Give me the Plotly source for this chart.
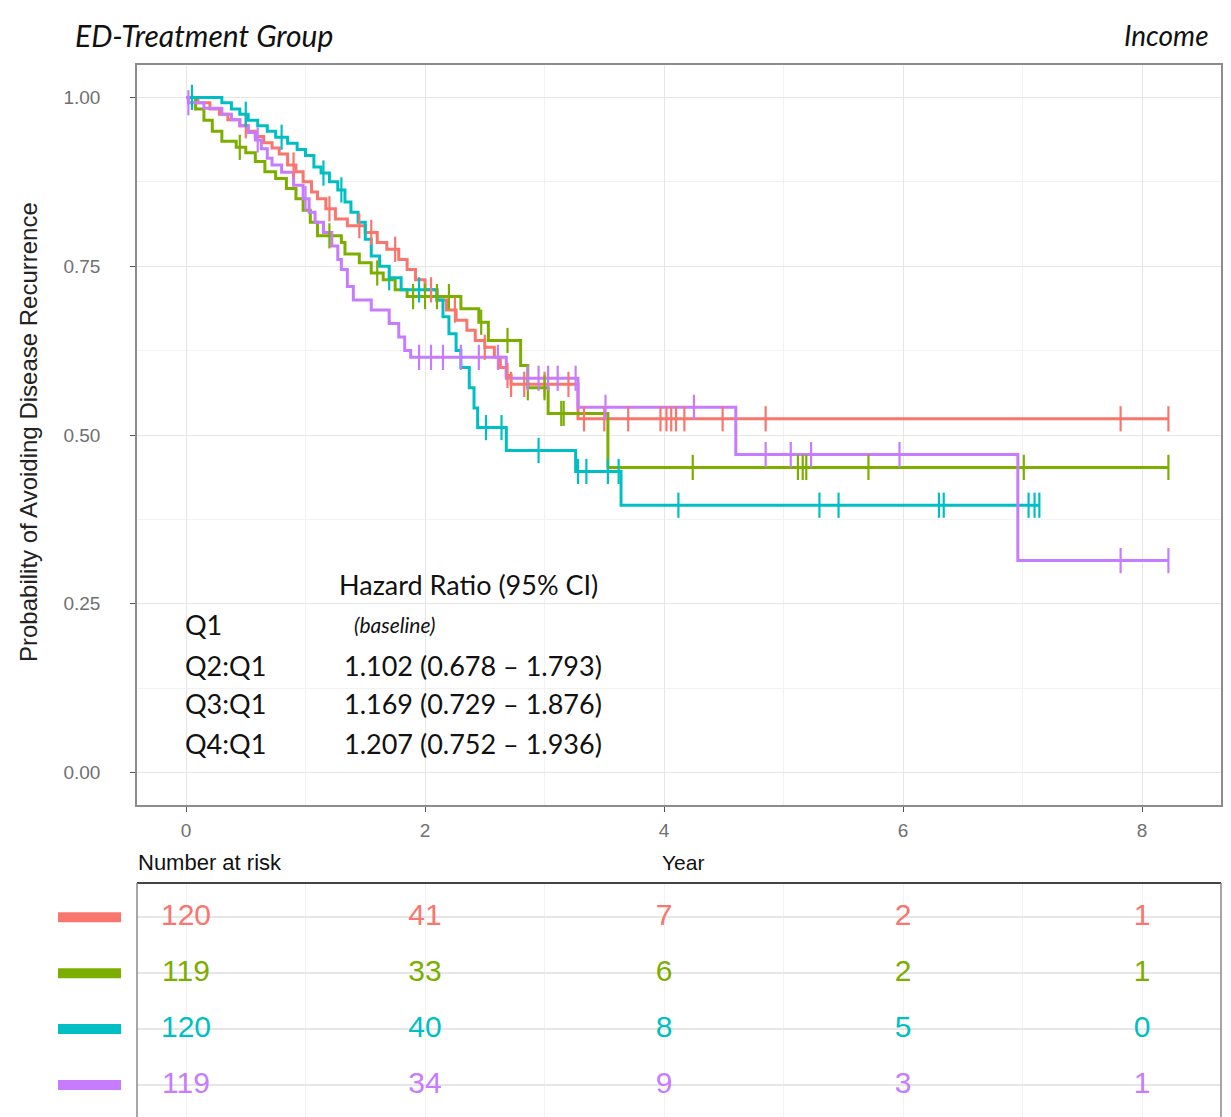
import numpy as np
import plotly.graph_objects as go

# ---------------- data ----------------
groups = ["Q1", "Q2", "Q3", "Q4"]
colors = ["#F8766D", "#7CAE00", "#00BFC4", "#C77CFF"]

q1_t = [0, 0.10, 0.20, 0.28, 0.35, 0.45, 0.52, 0.58, 0.65, 0.72, 0.78, 0.85, 0.92, 0.98, 1.05, 1.10,
        1.17, 1.25, 1.35, 1.50, 1.60, 1.68, 1.78, 1.85, 1.92, 2.00, 2.10, 2.18, 2.26, 2.35, 2.42,
        2.50, 2.58, 2.63, 2.68, 2.72, 3.28, 8.22]
q1_s = [1.0, 0.992, 0.983, 0.975, 0.967, 0.958, 0.950, 0.942, 0.933, 0.925, 0.916, 0.900, 0.890,
        0.875, 0.860, 0.850, 0.835, 0.820, 0.810, 0.800, 0.785, 0.775, 0.760, 0.745, 0.730, 0.715,
        0.700, 0.685, 0.670, 0.655, 0.640, 0.630, 0.615, 0.600, 0.588, 0.575, 0.524, 0.524]
q1_cens = [0.50, 0.90, 1.20, 1.45, 1.55, 1.75, 2.05, 2.25, 2.50, 2.69, 2.72, 2.83, 3.00, 3.20,
           3.33, 3.50, 3.70, 3.97, 4.02, 4.06, 4.10, 4.17, 4.49, 4.85, 7.82, 8.22]

q2_t = [0, 0.08, 0.15, 0.22, 0.30, 0.42, 0.50, 0.58, 0.66, 0.75, 0.84, 0.92, 0.98, 1.04, 1.10,
        1.30, 1.33, 1.45, 1.55, 1.65, 1.75, 1.85, 2.30, 2.45, 2.53, 2.80, 2.86, 3.03, 3.53, 8.22]
q2_s = [1.0, 0.983, 0.966, 0.950, 0.935, 0.926, 0.918, 0.905, 0.890, 0.880, 0.865, 0.850, 0.833,
        0.815, 0.795, 0.785, 0.768, 0.755, 0.740, 0.730, 0.715, 0.705, 0.687, 0.667, 0.640, 0.603,
        0.570, 0.532, 0.452, 0.452]
q2_cens = [0.45, 1.20, 1.60, 1.90, 2.00, 2.10, 2.20, 2.47, 2.69, 2.86, 3.00, 3.14, 3.16, 4.24,
           5.12, 5.16, 5.19, 5.71, 7.01, 8.22]

q3_t = [0, 0.30, 0.38, 0.45, 0.52, 0.60, 0.68, 0.75, 0.85, 0.93, 1.00, 1.07, 1.13, 1.20, 1.27,
        1.33, 1.38, 1.44, 1.50, 1.55, 1.62, 1.70, 1.80, 2.10, 2.15, 2.20, 2.26, 2.30, 2.37, 2.41,
        2.44, 2.68, 3.26, 3.64, 7.14]
q3_s = [1.0, 0.992, 0.983, 0.975, 0.966, 0.958, 0.950, 0.941, 0.932, 0.923, 0.914, 0.897, 0.888,
        0.875, 0.863, 0.845, 0.830, 0.815, 0.790, 0.765, 0.750, 0.733, 0.715, 0.700, 0.675, 0.650,
        0.625, 0.600, 0.570, 0.540, 0.511, 0.477, 0.446, 0.396, 0.396]
q3_cens = [0.05, 0.50, 0.80, 1.15, 1.30, 1.70, 1.95, 2.51, 2.64, 2.95, 3.28, 3.35, 3.53, 3.62,
           4.12, 5.30, 5.46, 6.30, 6.34, 7.05, 7.10, 7.14]

q4_t = [0, 0.02, 0.15, 0.30, 0.38, 0.45, 0.52, 0.58, 0.63, 0.68, 0.72, 0.80, 0.90, 0.98, 1.03,
        1.08, 1.15, 1.22, 1.27, 1.30, 1.35, 1.40, 1.55, 1.70, 1.78, 1.83, 1.88, 2.68, 3.28, 4.60,
        6.96, 8.22]
q4_s = [1.0, 0.992, 0.984, 0.975, 0.967, 0.958, 0.948, 0.937, 0.924, 0.910, 0.900, 0.889, 0.870,
        0.850, 0.830, 0.815, 0.800, 0.780, 0.760, 0.745, 0.720, 0.700, 0.685, 0.665, 0.645, 0.625,
        0.615, 0.584, 0.541, 0.471, 0.314, 0.314]
q4_cens = [0.02, 0.60, 1.00, 1.95, 2.05, 2.15, 2.30, 2.45, 2.61, 2.86, 2.95, 3.03, 3.11, 3.26,
           3.51, 4.25, 4.85, 5.06, 5.23, 5.97, 7.82, 8.22]

risk_times = [0, 2, 4, 6, 8]
risk_q1 = [120, 41, 7, 2, 1]
risk_q2 = [119, 33, 6, 2, 1]
risk_q3 = [120, 40, 8, 5, 0]
risk_q4 = [119, 34, 9, 3, 1]

hr_header = "Hazard Ratio (95% CI)"
hr_labels = ["Q1", "Q2:Q1", "Q3:Q1", "Q4:Q1"]
hr_values = ["(baseline)", "1.102 (0.678 \u2013 1.793)", "1.169 (0.729 \u2013 1.876)",
             "1.207 (0.752 \u2013 1.936)"]

x_ticks = [0, 2, 4, 6, 8]
y_ticks = [0, 0.25, 0.5, 0.75, 1.0]
y_ticklabels = ["0.00", "0.25", "0.50", "0.75", "1.00"]

curves_t = [q1_t, q2_t, q3_t, q4_t]
curves_s = [q1_s, q2_s, q3_s, q4_s]
cens = [q1_cens, q2_cens, q3_cens, q4_cens]
risks = [risk_q1, risk_q2, risk_q3, risk_q4]

# ---------------- geometry ----------------
W, H = 1231, 1117
def px_x(p):
    return p / W
def px_y(p):
    return 1 - p / H

xdom = [px_x(137), px_x(1221)]
ydom_main = [px_y(805), px_y(65)]
ydom_tab = [0.0, px_y(883)]

XR = [-0.41, 8.66]
YR = [-0.048, 1.048]

fig = go.Figure()

# KM curves
for g, c, t, s in zip(groups, colors, curves_t, curves_s):
    fig.add_trace(go.Scatter(x=t, y=s, mode="lines", line=dict(color=c, width=3, shape="hv"),
                             name=g, showlegend=False, xaxis="x", yaxis="y"))
# censor marks
for g, c, t, s, ct in zip(groups, colors, curves_t, curves_s, cens):
    ta = np.array(t)
    sa = np.array(s)
    idx = np.searchsorted(ta, np.array(ct), side="right") - 1
    fig.add_trace(go.Scatter(x=ct, y=sa[idx], mode="markers",
                             marker=dict(symbol="line-ns", size=18, line=dict(color=c, width=2.2)),
                             showlegend=False, xaxis="x", yaxis="y"))

# risk table
n = len(groups)
row_pos = list(range(n))[::-1]
for g, c, r, yp in zip(groups, colors, risks, row_pos):
    fig.add_trace(go.Scatter(x=risk_times, y=[yp] * len(risk_times), mode="text",
                             text=[str(v) for v in r],
                             textfont=dict(family="Liberation Sans, Arial", size=30, color=c),
                             showlegend=False, xaxis="x2", yaxis="y2"))

grid = "#e6e6e6"
minor_grid = "#f2f2f2"
axcol = "#8c8c8c"
tickfont = dict(family="Liberation Sans, Arial", size=19, color="#707070")

fig.update_layout(
    width=W, height=H, margin=dict(l=0, r=0, t=0, b=0),
    paper_bgcolor="white", plot_bgcolor="white",
    xaxis=dict(domain=xdom, range=XR, anchor="y", tickvals=x_ticks, ticks="outside", ticklen=5,
               tickcolor="#555555", tickfont=tickfont, ticklabelstandoff=2, showgrid=True,
               gridcolor=grid, gridwidth=1.2,
               minor=dict(dtick=1, tick0=1, showgrid=True, gridcolor=minor_grid, gridwidth=1, ticks=""),
               zeroline=False, showline=True, mirror=True, linecolor=axcol, linewidth=1.5),
    yaxis=dict(domain=ydom_main, range=YR, anchor="x", tickvals=y_ticks, ticktext=y_ticklabels,
               ticks="outside", ticklen=5, tickcolor="#555555", tickfont=tickfont,
               ticklabelstandoff=26, showgrid=True, gridcolor=grid, gridwidth=1.2,
               minor=dict(dtick=0.125, tick0=0.125, showgrid=True, gridcolor=minor_grid, gridwidth=1, ticks=""),
               zeroline=False, showline=True, mirror=True, linecolor=axcol, linewidth=1.5),
    xaxis2=dict(domain=xdom, range=XR, anchor="y2", tickvals=x_ticks, showticklabels=False, ticks="",
                showgrid=True, gridcolor=minor_grid, gridwidth=1,
                minor=dict(dtick=1, tick0=1, showgrid=True, gridcolor=minor_grid, gridwidth=1),
                zeroline=False, showline=False),
    yaxis2=dict(domain=ydom_tab, range=[-0.57, 3.61], anchor="x2", tickvals=row_pos,
                showticklabels=False, ticks="", showgrid=True, gridcolor=grid, gridwidth=1.5,
                zeroline=False, showline=False),
)

# table border (top, left, right)
tab_top = px_y(883)
for (x0, y0, x1, y1, col, w) in [
    (xdom[0], tab_top, xdom[1], tab_top, "#444444", 2),
    (xdom[0], 0, xdom[0], tab_top, "#888888", 1.5),
    (xdom[1], 0, xdom[1], tab_top, "#888888", 1.5),
]:
    fig.add_shape(type="line", xref="paper", yref="paper", x0=x0, y0=y0, x1=x1, y1=y1,
                  line=dict(color=col, width=w))

# legend bars beside the table
for c, yp in zip(colors, row_pos):
    fig.add_shape(type="line", xref="paper", yref="y2", x0=px_x(58), x1=px_x(121), y0=yp, y1=yp,
                  line=dict(color=c, width=10))

annots = []
annots.append(dict(text="ED-Treatment Group", xref="paper", yref="paper", x=px_x(73), y=px_y(35),
                   xanchor="left", yanchor="middle", showarrow=False,
                   font=dict(family="Lato", size=30, color="#111111", style="italic")))
annots.append(dict(text="Income", xref="paper", yref="paper", x=px_x(1211), y=px_y(35),
                   xanchor="right", yanchor="middle", showarrow=False,
                   font=dict(family="Lato", size=28, color="#111111", style="italic")))
annots.append(dict(text="Probability of Avoiding Disease Recurrence", xref="paper", yref="paper",
                   x=px_x(28), y=px_y(432), xanchor="center", yanchor="middle", textangle=-90,
                   showarrow=False,
                   font=dict(family="Liberation Sans, Arial", size=24, color="#222222")))
annots.append(dict(text="Number at risk", xref="paper", yref="paper", x=px_x(136), y=px_y(862),
                   xanchor="left", yanchor="middle", showarrow=False,
                   font=dict(family="Liberation Sans, Arial", size=22, color="#111111")))
annots.append(dict(text="Year", xref="paper", yref="paper", x=px_x(683), y=px_y(862),
                   xanchor="center", yanchor="middle", showarrow=False,
                   font=dict(family="Liberation Sans, Arial", size=21, color="#111111")))

hr_font = dict(family="Lato", size=27, color="#111111")
annots.append(dict(text=hr_header, xref="x", yref="y", x=1.264, y=0.278, xanchor="left",
                   yanchor="middle", showarrow=False, font=hr_font))
hr_rows_y = [0.220, 0.159, 0.102, 0.043]
for lab, val, yy in zip(hr_labels, hr_values, hr_rows_y):
    annots.append(dict(text=lab, xref="x", yref="y", x=-0.025, y=yy, xanchor="left",
                       yanchor="middle", showarrow=False, font=hr_font))
    if val.startswith("("):
        annots.append(dict(text=val, xref="x", yref="y", x=1.39, y=yy, xanchor="left",
                           yanchor="middle", showarrow=False,
                           font=dict(family="Lato", size=21, color="#111111", style="italic")))
    else:
        annots.append(dict(text=val, xref="x", yref="y", x=1.305, y=yy, xanchor="left",
                           yanchor="middle", showarrow=False, font=hr_font))

fig.update_layout(annotations=annots)
fig.write_html("out.html", config={"displayModeBar": False},
               post_script="document.body.style.margin='0';")
